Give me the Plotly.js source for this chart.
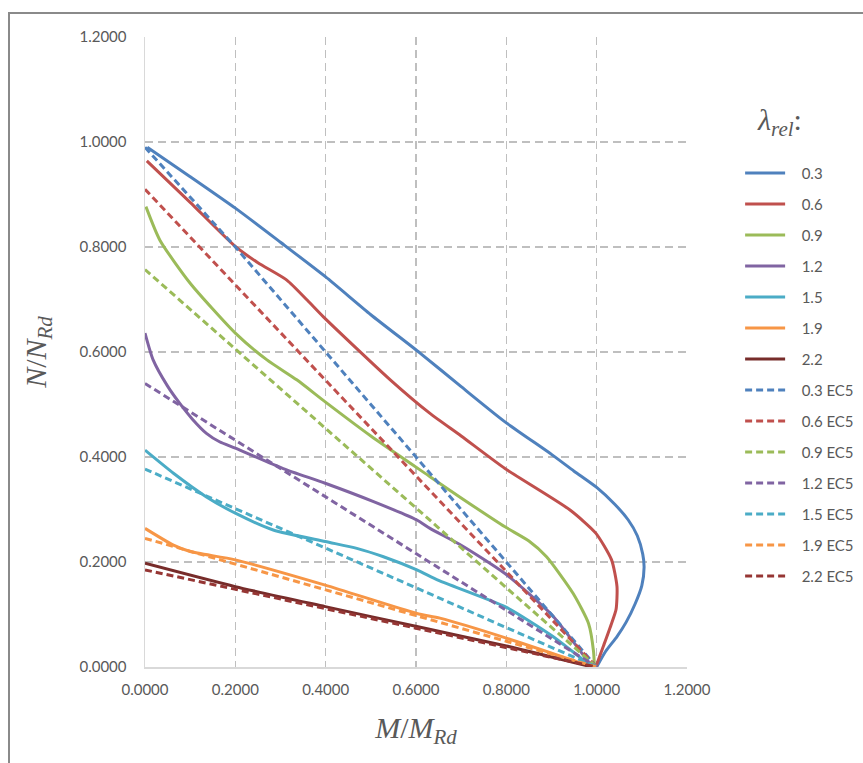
<!DOCTYPE html>
<html>
<head>
<meta charset="utf-8">
<script src="https://cdn.plot.ly/plotly-3.0.1.min.js"></script>
<style>
  html, body { margin: 0; padding: 0; background: #ffffff; overflow: hidden; }
  #wrap { position: relative; width: 863px; height: 763px; overflow: hidden; }
  #frame { position: absolute; left: 8px; top: 12px; width: 900px; height: 800px; border: 2px solid #8a8a8a; box-sizing: border-box; pointer-events: none; z-index: 5; }
  #chart { position: absolute; left: 0; top: 0; width: 863px; height: 763px; }
</style>
</head>
<body>
<div id="wrap">
  <div id="chart"></div>
  <div id="frame"></div>
</div>
<script>
// ---- data ----
const seriesNames = ["0.3", "0.6", "0.9", "1.2", "1.5", "1.9", "2.2",
                     "0.3 EC5", "0.6 EC5", "0.9 EC5", "1.2 EC5", "1.5 EC5", "1.9 EC5", "2.2 EC5"];

const x03 = [0.005, 0.1, 0.2, 0.3, 0.4, 0.5, 0.609, 0.7, 0.797, 0.9, 0.95, 1.0, 1.04, 1.07, 1.09, 1.102, 1.105, 1.1, 1.085, 1.065, 1.045, 1.02, 1.0];
const y03 = [0.990, 0.934, 0.874, 0.809, 0.743, 0.671, 0.598, 0.534, 0.467, 0.405, 0.373, 0.342, 0.31, 0.28, 0.25, 0.215, 0.19, 0.155, 0.12, 0.085, 0.058, 0.03, 0.0];

const x06 = [0.004, 0.1, 0.2, 0.25, 0.314, 0.36, 0.395, 0.543, 0.631, 0.7, 0.797, 0.941, 0.998, 1.033, 1.045, 1.043, 1.033, 1.015, 0.998];
const y06 = [0.964, 0.885, 0.801, 0.770, 0.737, 0.698, 0.667, 0.547, 0.483, 0.44, 0.378, 0.299, 0.255, 0.204, 0.153, 0.11, 0.083, 0.04, 0.0];

const x09 = [0.002, 0.033, 0.1, 0.2, 0.27, 0.336, 0.399, 0.5, 0.631, 0.7, 0.797, 0.85, 0.889, 0.948, 0.982, 0.993, 0.995];
const y09 = [0.877, 0.813, 0.731, 0.636, 0.585, 0.547, 0.505, 0.44, 0.3625, 0.322, 0.267, 0.24, 0.210, 0.140, 0.083, 0.03, 0.0];

const x12 = [0.0, 0.018, 0.05, 0.077, 0.105, 0.136, 0.165, 0.2, 0.306, 0.399, 0.506, 0.602, 0.631, 0.7, 0.797, 0.9, 0.99];
const y12 = [0.636, 0.585, 0.535, 0.502, 0.472, 0.445, 0.429, 0.417, 0.378, 0.350, 0.315, 0.280, 0.264, 0.232, 0.178, 0.1, 0.0];

const x15 = [0.0, 0.063, 0.136, 0.2, 0.284, 0.399, 0.469, 0.528, 0.602, 0.65, 0.797, 0.9, 0.99];
const y15 = [0.413, 0.369, 0.324, 0.293, 0.261, 0.239, 0.226, 0.210, 0.185, 0.165, 0.115, 0.06, 0.0];

const x19 = [0.0, 0.063, 0.1, 0.2, 0.399, 0.602, 0.653, 0.8, 0.99];
const y19 = [0.264, 0.232, 0.220, 0.204, 0.156, 0.102, 0.093, 0.055, 0.0];

const x22 = [0.0, 0.2, 0.399, 0.602, 0.8, 0.99];
const y22 = [0.1975, 0.153, 0.115, 0.077, 0.04, 0.0];

const xEC5 = [0.0, 0.2, 0.4, 0.6, 0.8, 1.0];
const y03EC5 = [0.99, 0.80, 0.60, 0.40, 0.20, 0.0];
const y06EC5 = [0.91, 0.728, 0.546, 0.364, 0.182, 0.0];
const y09EC5 = [0.757, 0.606, 0.454, 0.303, 0.151, 0.0];
const y12EC5 = [0.54, 0.432, 0.324, 0.216, 0.108, 0.0];
const y15EC5 = [0.377, 0.302, 0.226, 0.151, 0.075, 0.0];
const y19EC5 = [0.245, 0.196, 0.147, 0.098, 0.049, 0.0];
const y22EC5 = [0.185, 0.148, 0.111, 0.074, 0.037, 0.0];

const xTicks = [0, 0.2, 0.4, 0.6, 0.8, 1.0, 1.2];
const yTicks = [0, 0.2, 0.4, 0.6, 0.8, 1.0, 1.2];

// ---- styling ----
const colors = ["#4F81BD", "#C0504D", "#9BBB59", "#8064A2", "#4BACC6", "#F79646", "#772C2A"];
const ec5Colors = ["#4F81BD", "#C0504D", "#9BBB59", "#8064A2", "#4BACC6", "#F79646", "#963634"];

const solidX = [x03, x06, x09, x12, x15, x19, x22];
const solidY = [y03, y06, y09, y12, y15, y19, y22];
const ec5Y = [y03EC5, y06EC5, y09EC5, y12EC5, y15EC5, y19EC5, y22EC5];

const pad = "\u00a0\u00a0\u00a0";
const traces = [];
for (let i = 0; i < 7; i++) {
  traces.push({
    type: "scatter", mode: "lines",
    x: solidX[i], y: solidY[i],
    name: pad + seriesNames[i], legendgroup: "g" + i,
    line: { color: colors[i], width: 3, shape: "spline", smoothing: 0.6 }
  });
}
for (let i = 0; i < 7; i++) {
  traces.push({
    type: "scatter", mode: "lines",
    x: xEC5, y: ec5Y[i],
    name: pad + seriesNames[7 + i], legendgroup: "e" + i,
    line: { color: ec5Colors[i], width: 3, dash: "7px,4px" }
  });
}

const tickFont = { family: "Lato, 'Open Sans', sans-serif", size: 15, color: "#595959" };
const mathFont = { family: "'Liberation Serif', 'DejaVu Serif', serif", size: 30, color: "#595959" };

const layout = {
  width: 863, height: 763,
  margin: { l: 145, r: 176, t: 37, b: 96, pad: 0, autoexpand: false },
  paper_bgcolor: "#ffffff", plot_bgcolor: "#ffffff",
  showlegend: true,
  xaxis: {
    range: [0, 1.2], tickvals: xTicks, tickformat: ".4f",
    showgrid: true, gridcolor: "#BFBFBF", gridwidth: 1.5, griddash: "8px,5px",
    zeroline: false, showline: true, linecolor: "#D9D9D9", linewidth: 1.5,
    ticks: "", tickfont: tickFont, ticklabelstandoff: 8,
    title: { text: "<i>M</i>/<i>M</i><sub><i>Rd</i></sub>", font: mathFont, standoff: 20 },
    fixedrange: true
  },
  yaxis: {
    range: [0, 1.2], tickvals: yTicks, tickformat: ".4f",
    showgrid: true, gridcolor: "#BFBFBF", gridwidth: 1.5, griddash: "8px,5px",
    zeroline: false, showline: true, linecolor: "#D9D9D9", linewidth: 1.5,
    ticks: "", tickfont: tickFont, ticklabelstandoff: 14,
    title: { text: "<i>N</i>/<i>N</i><sub><i>Rd</i></sub>", font: mathFont, standoff: 24 },
    fixedrange: true
  },
  legend: {
    x: 1.098, xanchor: "left", y: 0.81, yanchor: "top",
    bgcolor: "rgba(0,0,0,0)", borderwidth: 0,
    font: { family: "Lato, 'Open Sans', sans-serif", size: 15, color: "#595959" },
    tracegroupgap: 8.5, itemwidth: 40
  },
  annotations: [{
    xref: "paper", yref: "paper", x: 1.125, y: 0.865, xanchor: "left", yanchor: "middle",
    text: "<i>λ</i><sub><i>rel</i></sub>:", showarrow: false,
    font: { family: "'Liberation Serif', 'DejaVu Serif', serif", size: 30, color: "#595959" }
  }]
};

Plotly.newPlot("chart", traces, layout, { staticPlot: true, displayModeBar: false });
</script>
</body>
</html>
